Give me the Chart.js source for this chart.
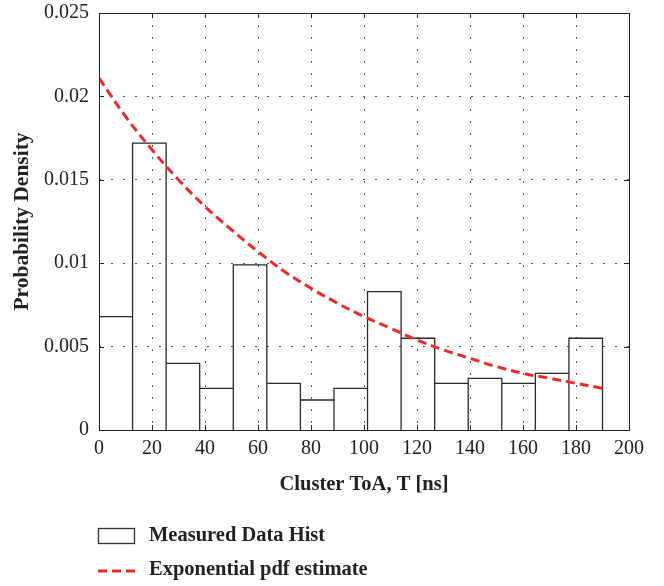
<!DOCTYPE html>
<html>
<head>
<meta charset="utf-8">
<script src="https://cdn.jsdelivr.net/npm/chart.js@4.4.1/dist/chart.umd.min.js"></script>
<style>
  html, body { margin: 0; padding: 0; background: #fff; }
</style>
</head>
<body>
<canvas id="histChart" width="664" height="586"></canvas>
<script>
// histogram bin edges (ns) and bin heights
const binEdges = [0, 12.67, 25.33, 38, 50.67, 63.33, 76, 88.67, 101.33, 114, 126.67, 139.33, 152, 164.67, 177.33, 190];
const histValues = [0.0068, 0.0172, 0.0040, 0.0025, 0.0099, 0.0028, 0.0018, 0.0025, 0.0083, 0.0055, 0.0028, 0.0031, 0.0028, 0.0034, 0.0055];

// red dashed curve, sampled every 10 ns
const fitX = [0, 10, 20, 30, 40, 50, 60, 70, 80, 90, 100, 110, 120, 130, 140, 150, 160, 170, 180, 190];
const fitY = [0.0211, 0.0188, 0.0168, 0.0150, 0.0134, 0.0120, 0.0107, 0.0095, 0.0085, 0.0076, 0.0068, 0.0061, 0.0054, 0.0048, 0.0043, 0.0038, 0.0034, 0.0031, 0.0028, 0.0025];

const xTicks = [0, 20, 40, 60, 80, 100, 120, 140, 160, 180, 200];
const yTicks = [0, 0.005, 0.01, 0.015, 0.02, 0.025];
const yTickLabels = ['0', '0.005', '0.01', '0.015', '0.02', '0.025'];

const SERIF = '"Liberation Serif", "DejaVu Serif", serif';
const RED = '#ec2a2c';
const INK = '#222';

// outline of every bin: up the left edge, across, down the right edge
const histOutline = [];
histValues.forEach((h, i) => {
    histOutline.push({ x: binEdges[i], y: 0 });
    histOutline.push({ x: binEdges[i], y: h });
    histOutline.push({ x: binEdges[i + 1], y: h });
    histOutline.push({ x: binEdges[i + 1], y: 0 });
});

// frame, inward ticks and the legend underneath
const framePlugin = {
    id: 'frame',
    afterDraw(chart) {
        const ctx = chart.ctx;
        const { left, top, right, bottom } = chart.chartArea;
        const xs = chart.scales.x;
        const ys = chart.scales.y;

        ctx.save();
        ctx.strokeStyle = INK;
        ctx.lineWidth = 1;
        ctx.setLineDash([]);
        ctx.strokeRect(left + 0.5, top + 0.5, right - left, bottom - top);

        ctx.beginPath();
        xTicks.forEach(v => {
            const px = Math.round(xs.getPixelForValue(v)) + 0.5;
            ctx.moveTo(px, bottom); ctx.lineTo(px, bottom - 5);
            ctx.moveTo(px, top); ctx.lineTo(px, top + 5);
        });
        yTicks.forEach(v => {
            const py = Math.round(ys.getPixelForValue(v)) + 0.5;
            ctx.moveTo(left, py); ctx.lineTo(left + 5, py);
            ctx.moveTo(right, py); ctx.lineTo(right - 5, py);
        });
        ctx.stroke();

        // legend
        const lx = 98;
        ctx.strokeStyle = '#333';
        ctx.lineWidth = 1.3;
        ctx.strokeRect(lx + 0.5, 528.5, 36, 15);
        ctx.strokeStyle = RED;
        ctx.lineWidth = 3;
        ctx.setLineDash([9, 5]);
        ctx.beginPath();
        ctx.moveTo(lx, 571);
        ctx.lineTo(lx + 37, 571);
        ctx.stroke();
        ctx.setLineDash([]);

        ctx.fillStyle = INK;
        ctx.font = 'bold 20.5px ' + SERIF;
        ctx.textBaseline = 'middle';
        ctx.textAlign = 'left';
        ctx.fillText('Measured Data Hist', 149, 536);
        ctx.fillText('Exponential pdf estimate', 149, 570);
        ctx.restore();
    }
};

const ctx = document.getElementById('histChart');

new Chart(ctx, {
    type: 'line',
    data: {
        datasets: [
            {
                label: 'Exponential pdf estimate',
                data: fitX.map((x, i) => ({ x: x, y: fitY[i] })),
                borderColor: RED,
                borderWidth: 3,
                borderDash: [9, 5],
                pointRadius: 0,
                tension: 0.4,
                fill: false,
                order: 0
            },
            {
                label: 'Measured Data Hist',
                data: histOutline,
                borderColor: '#2a2a2a',
                borderWidth: 1.3,
                pointRadius: 0,
                tension: 0,
                fill: false,
                order: 1
            }
        ]
    },
    options: {
        responsive: false,
        animation: false,
        layout: {
            padding: { left: 0, top: 13, right: 35, bottom: 86 }
        },
        plugins: {
            legend: { display: false },
            tooltip: { enabled: false }
        },
        scales: {
            x: {
                type: 'linear',
                min: 0,
                max: 200,
                afterBuildTicks: (scale) => {
                    scale.ticks = xTicks.map(v => ({ value: v }));
                },
                afterFit: (scale) => { scale.height = 70; },
                grid: {
                    color: '#555',
                    drawTicks: false,
                    lineWidth: 1
                },
                border: { display: false, dash: [2, 10] },
                ticks: {
                    color: INK,
                    padding: 7,
                    maxRotation: 0,
                    font: { family: SERIF, size: 20 }
                },
                title: {
                    display: true,
                    text: 'Cluster ToA, T [ns]',
                    color: INK,
                    padding: { top: 0, bottom: 3 },
                    font: { family: SERIF, size: 20.5, weight: 'bold' }
                }
            },
            y: {
                type: 'linear',
                min: 0,
                max: 0.025,
                afterBuildTicks: (scale) => {
                    scale.ticks = yTicks.map(v => ({ value: v }));
                },
                afterFit: (scale) => {
                    scale.width = 99;
                    // let the top label overhang the plot instead of pushing it down
                    scale.paddingTop = 0;
                    scale.paddingBottom = 0;
                },
                grid: {
                    color: '#555',
                    drawTicks: false,
                    lineWidth: 1
                },
                border: { display: false, dash: [2, 10] },
                ticks: {
                    color: INK,
                    padding: 10,
                    font: { family: SERIF, size: 20 },
                    callback: (value) => {
                        const i = yTicks.indexOf(value);
                        return i >= 0 ? yTickLabels[i] : '';
                    }
                },
                title: {
                    display: true,
                    text: 'Probability Density',
                    color: INK,
                    padding: { top: 10, bottom: 0 },
                    font: { family: SERIF, size: 21.5, weight: 'bold' }
                }
            }
        }
    },
    plugins: [framePlugin]
});
</script>
</body>
</html>
